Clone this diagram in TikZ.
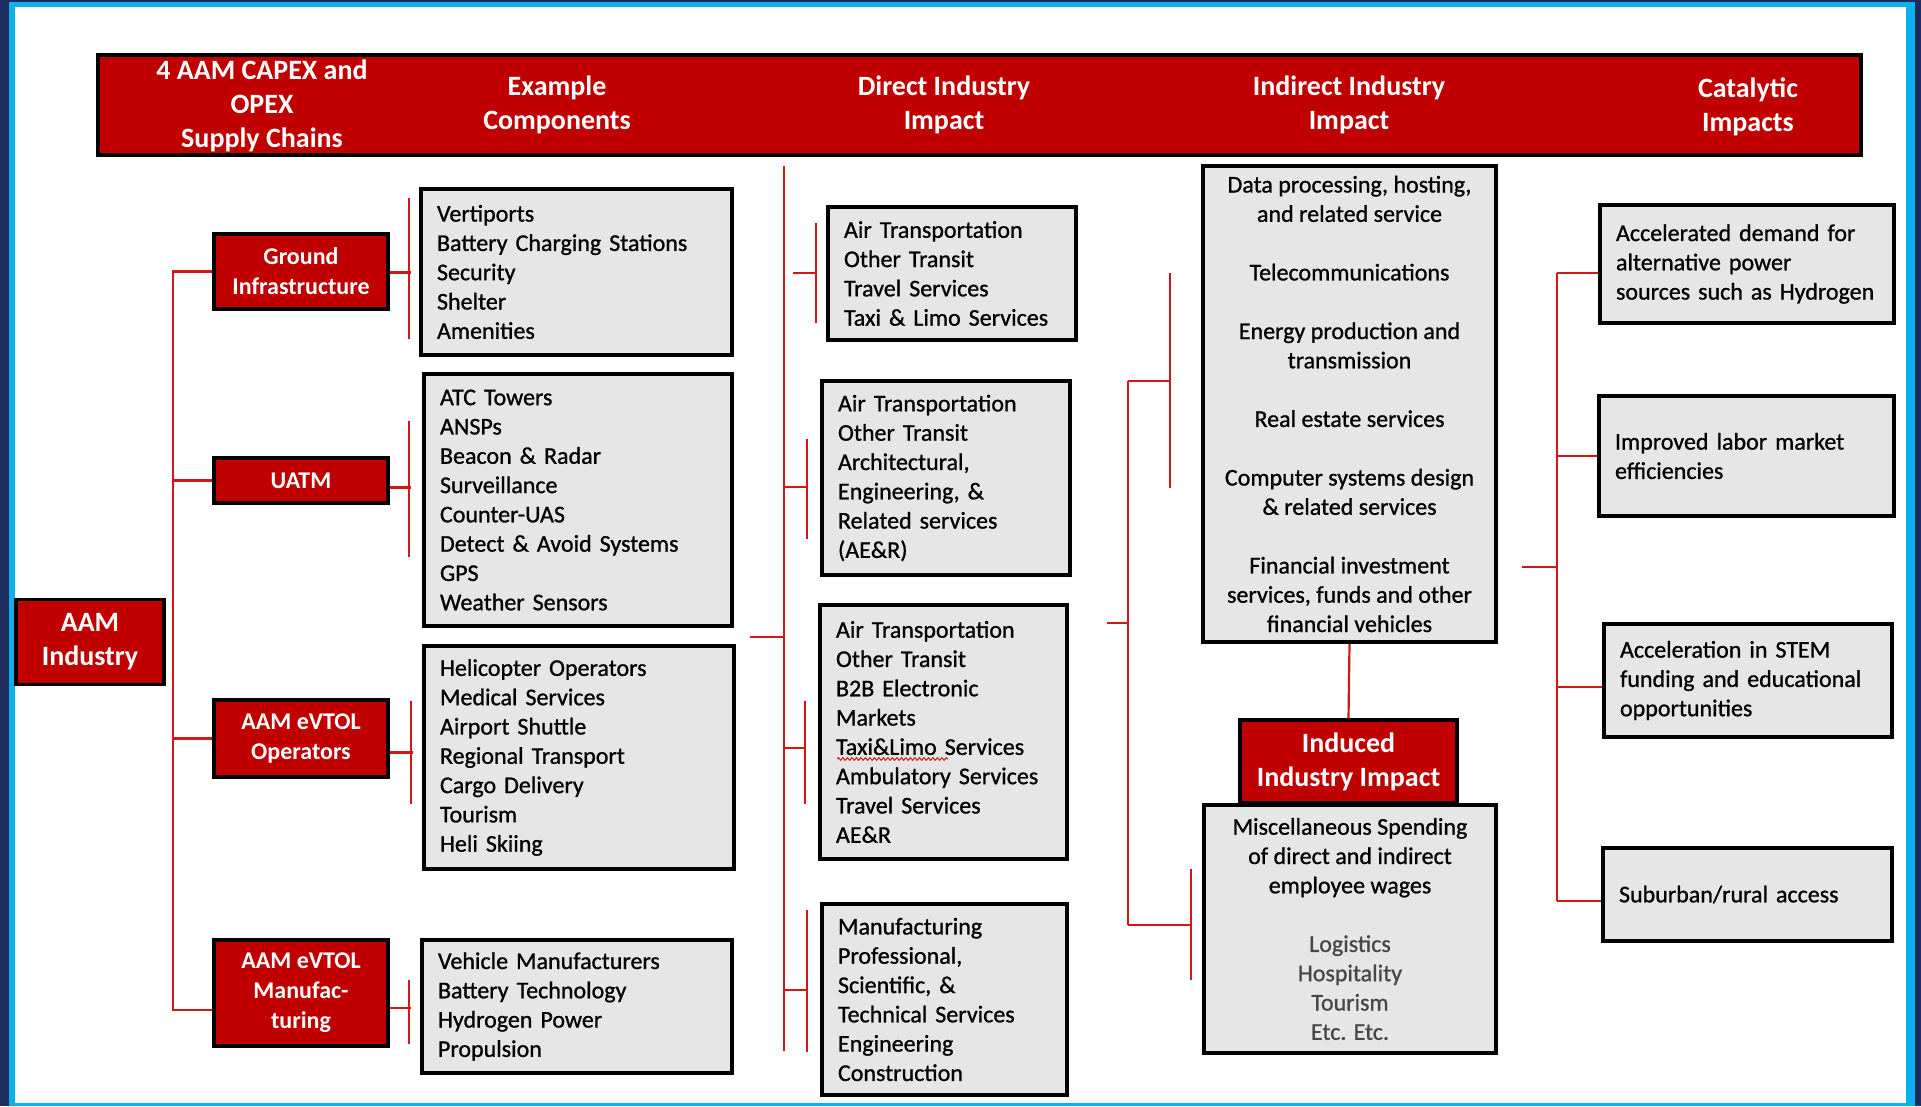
\documentclass[tikz,border=0pt]{standalone}
\usepackage{fontspec}
\setmainfont{Carlito}
\newfontfamily\bodyfont{Carlito}[RawFeature={embolden=0.9}]
\usetikzlibrary{decorations.pathmorphing}

\definecolor{aamred}{HTML}{C00000}
\definecolor{linkred}{HTML}{D01818}
\definecolor{boxgrey}{HTML}{E6E6E6}
\definecolor{framecyan}{HTML}{0BB0EC}
\definecolor{framenavy}{HTML}{1E2B5E}
\newcommand{\softtxt}[1]{\textcolor{black!72}{#1}}

\tikzset{
  redbox/.style={draw=black, line width=3.5pt, fill=aamred, text=white,
    font=\bfseries\fontsize{24}{30}\selectfont, align=center, inner sep=0pt},
  bigred/.style={redbox, font=\bfseries\fontsize{28}{34}\selectfont},
  greybox/.style={draw=black, line width=3.5pt, fill=boxgrey,
    font=\bodyfont\fontsize{24}{29.3}\selectfont, inner xsep=16pt, inner ysep=0pt},
  listbox/.style={greybox, align=left},
  midbox/.style={greybox, align=center},
  headtxt/.style={text=white, font=\bfseries\fontsize{28}{34}\selectfont, align=center},
  link/.style={draw=linkred, line width=2.2pt},
  brace/.style={draw=linkred, line width=1.8pt}
}

\begin{document}
\begin{tikzpicture}[x=1pt, y=-1pt]
  \useasboundingbox (0,0) rectangle (1921,1106);
  % frame
  \fill[framenavy] (0,0) rectangle (1921,1106);
  \fill[framecyan] (9,2) rectangle (1915,1106);
  \fill[white] (15,7) rectangle (1906,1103);

  % header bar
  \node[draw=black, line width=3.5pt, fill=aamred, minimum width=1763pt, minimum height=100pt] (head) at (979.5,105) {};
  \node[headtxt] (hsupply) at (262,106) {4 AAM CAPEX and\\OPEX\\Supply Chains};
  \node[headtxt] (hcomp) at (557,105) {Example\\Components};
  \node[headtxt] (hdirect) at (944,105) {Direct Industry\\Impact};
  \node[headtxt] (hindirect) at (1349,105) {Indirect Industry\\Impact};
  \node[headtxt] (hcat) at (1748,107) {Catalytic\\Impacts};

  % supply chains
  \node[bigred, minimum width=148pt, minimum height=85pt] (aam) at (90,642) {AAM\\Industry};
  \node[redbox, minimum width=174pt, minimum height=75pt] (ground) at (301,271.5) {Ground\\Infrastructure};
  \node[redbox, minimum width=174pt, minimum height=45pt] (uatm) at (301,480.5) {UATM};
  \node[redbox, minimum width=174pt, minimum height=77pt] (oper) at (301,738.5) {AAM eVTOL\\Operators};
  \node[redbox, minimum width=174pt, minimum height=106pt] (manuf) at (301,993) {AAM eVTOL\\Manufac-\\turing};

  % example components
  \node[listbox, text width=279pt, minimum height=166pt] (comp1) at (576.5,272)
    {Vertiports\\Battery Charging Stations\\Security\\Shelter\\Amenities};
  \node[listbox, text width=276pt, minimum height=252pt] (comp2) at (578,500)
    {ATC Towers\\ANSPs\\Beacon \& Radar\\Surveillance\\Counter-UAS\\Detect \& Avoid Systems\\GPS\\Weather Sensors};
  \node[listbox, text width=278pt, minimum height=223pt] (comp3) at (579,757.5)
    {Helicopter Operators\\Medical Services\\Airport Shuttle\\Regional Transport\\Cargo Delivery\\Tourism\\Heli Skiing};
  \node[listbox, text width=278pt, minimum height=133pt] (comp4) at (577,1006.5)
    {Vehicle Manufacturers\\Battery Technology\\Hydrogen Power\\Propulsion};

  % direct impact
  \node[listbox, text width=216pt, minimum height=133pt] (dir1) at (952,273.5)
    {Air Transportation\\Other Transit\\Travel Services\\Taxi \& Limo Services};
  \node[listbox, text width=216pt, minimum height=194pt] (dir2) at (946,478)
    {Air Transportation\\Other Transit\\Architectural,\\Engineering, \&\\Related services\\(AE\&R)};
  \node[listbox, text width=215pt, minimum height=254pt] (dir3) at (943.5,732)
    {Air Transportation\\Other Transit\\B2B Electronic\\Markets\\Taxi\&Limo Services\\Ambulatory Services\\Travel Services\\AE\&R};
  \node[listbox, text width=213pt, minimum height=191pt] (dir4) at (944.5,999.5)
    {Manufacturing\\Professional,\\Scientific, \&\\Technical Services\\Engineering\\Construction};
  \draw[linkred, line width=1pt, decorate, decoration={snake, amplitude=1.3pt, segment length=4.5pt}]
    (837,759) -- (948,759);

  % indirect and induced impact
  \node[midbox, minimum width=293pt, minimum height=476pt] (ind) at (1349.5,404)
    {Data processing, hosting,\\and related service\\[29.3pt]Telecommunications\\[29.3pt]Energy production and\\transmission\\[29.3pt]Real estate services\\[29.3pt]Computer systems design\\\& related services\\[29.3pt]Financial investment\\services, funds and other\\financial vehicles};
  \node[bigred, minimum width=217pt, minimum height=83pt] (induced) at (1348.5,761.5) {Induced\\Industry Impact};
  \node[midbox, minimum width=292pt, minimum height=248pt] (spend) at (1350,929)
    {Miscellaneous Spending\\of direct and indirect\\employee wages\\[29.3pt]\softtxt{Logistics}\\\softtxt{Hospitality}\\\softtxt{Tourism}\\\softtxt{Etc. Etc.}};

  % catalytic impacts
  \node[listbox, text width=262pt, minimum height=118pt] (cat1) at (1747,264)
    {Accelerated demand for\\alternative power\\sources such as Hydrogen};
  \node[listbox, text width=263pt, minimum height=120pt] (cat2) at (1746.5,456)
    {Improved labor market\\efficiencies};
  \node[listbox, text width=256pt, minimum height=113pt] (cat3) at (1748,680.5)
    {Acceleration in STEM\\funding and educational\\opportunities};
  \node[listbox, text width=257pt, minimum height=93pt] (cat4) at (1747.5,894.5)
    {Suburban/rural access};

  % supply chain tree
  \coordinate (trunk) at (173,273);
  \coordinate (mw) at ([yshift=-17pt]manuf.west);
  \draw[link] (ground.west) -- (ground.west -| trunk) -- (trunk |- mw) -- (mw);
  \draw[link] (uatm.west) -- (uatm.west -| trunk);
  \draw[link] (oper.west) -- (oper.west -| trunk);
  \foreach \b/\s/\d/\bx/\ba/\bb in {ground/-1/21/409/198/339, uatm/-7/21/409/421/557,
      oper/-14/23/411/701/804, manuf/-15/21/409/980/1044}{
    \draw[link] ([yshift=\s pt]\b.east) -- +(\d,0);
    \draw[brace] (\bx,\ba) -- (\bx,\bb);}

  % direct impact brackets
  \draw[brace] (784,166) -- (784,1051);
  \draw[link] (750,637) -- (784,637);
  \foreach \y/\xa/\xb/\ya/\yb in {273/793/816/223/323, 487/785/807/439/539,
      748/785/805/701/804, 990/785/807/910/1052}{
    \draw[link] (\xa,\y) -- (\xb,\y);
    \draw[brace] (\xb,\ya) -- (\xb,\yb);}

  % indirect brackets
  \draw[brace] (1128,381) -- (1128,925);
  \draw[link] (1107,623) -- (1128,623);
  \draw[link] (1128,381) -- (1170,381);
  \draw[brace] (1170,273) -- (1170,487.5);
  \draw[link] (1128,925) -- (1191,925);
  \draw[brace] (1191,869) -- (1191,980);
  \draw[link] (ind.south) -- (induced.north);

  % catalytic tree
  \coordinate (spine) at (1557,273);
  \draw[brace] (spine) -- (1557,901);
  \draw[link] (1522,567) -- (1557,567);
  \foreach \c/\s in {cat1/-9, cat2/0, cat3/-6.5, cat4/-6.5}{
    \coordinate (cs\c) at ([yshift=\s pt]\c.west);
    \draw[link] (cs\c) -- (cs\c -| spine);}
\end{tikzpicture}
\end{document}
